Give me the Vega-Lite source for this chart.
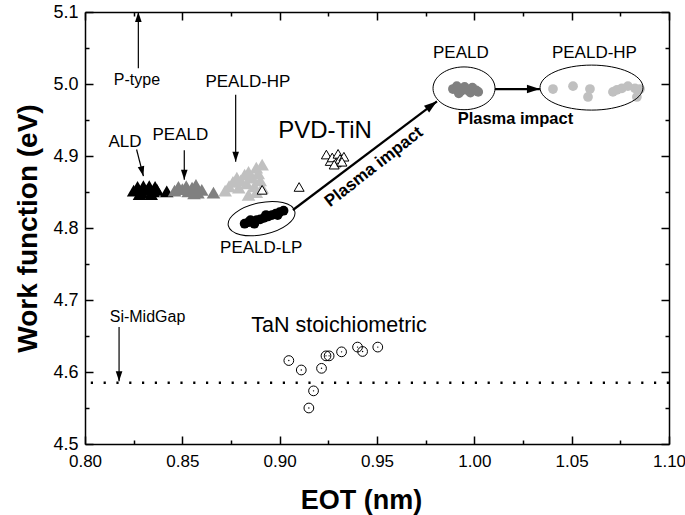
{
  "$schema": "https://vega.github.io/schema/vega-lite/v6.json",
  "width": 584,
  "height": 432,
  "autosize": {"type": "none"},
  "padding": {"left": 85, "top": 12, "right": 16, "bottom": 71},
  "background": "white",
  "config": {"view": {"stroke": null}, "font": "Liberation Sans"},
  "resolve": {"axis": {"x": "independent", "y": "independent"}},
  "datasets": {
    "tri": [
      {"eot": 0.825, "wf": 4.852, "grp": "ALD"}, {"eot": 0.827, "wf": 4.857, "grp": "ALD"}, {"eot": 0.829, "wf": 4.850, "grp": "ALD"},
      {"eot": 0.830, "wf": 4.858, "grp": "ALD"}, {"eot": 0.832, "wf": 4.853, "grp": "ALD"}, {"eot": 0.833, "wf": 4.858, "grp": "ALD"},
      {"eot": 0.835, "wf": 4.851, "grp": "ALD"}, {"eot": 0.836, "wf": 4.857, "grp": "ALD"}, {"eot": 0.837, "wf": 4.853, "grp": "ALD"},
      {"eot": 0.828, "wf": 4.847, "grp": "ALD"}, {"eot": 0.834, "wf": 4.847, "grp": "ALD"}, {"eot": 0.842, "wf": 4.851, "grp": "ALD"},
      {"eot": 0.846, "wf": 4.852, "grp": "PEALD"}, {"eot": 0.848, "wf": 4.857, "grp": "PEALD"}, {"eot": 0.850, "wf": 4.854, "grp": "PEALD"},
      {"eot": 0.852, "wf": 4.858, "grp": "PEALD"}, {"eot": 0.853, "wf": 4.851, "grp": "PEALD"}, {"eot": 0.855, "wf": 4.856, "grp": "PEALD"},
      {"eot": 0.857, "wf": 4.860, "grp": "PEALD"}, {"eot": 0.858, "wf": 4.849, "grp": "PEALD"}, {"eot": 0.860, "wf": 4.853, "grp": "PEALD"},
      {"eot": 0.856, "wf": 4.848, "grp": "PEALD"}, {"eot": 0.866, "wf": 4.849, "grp": "PEALD"},
      {"eot": 0.872, "wf": 4.852, "grp": "PEALD-HP"}, {"eot": 0.874, "wf": 4.858, "grp": "PEALD-HP"}, {"eot": 0.876, "wf": 4.864, "grp": "PEALD-HP"},
      {"eot": 0.878, "wf": 4.870, "grp": "PEALD-HP"}, {"eot": 0.879, "wf": 4.856, "grp": "PEALD-HP"}, {"eot": 0.880, "wf": 4.866, "grp": "PEALD-HP"},
      {"eot": 0.882, "wf": 4.874, "grp": "PEALD-HP"}, {"eot": 0.883, "wf": 4.862, "grp": "PEALD-HP"}, {"eot": 0.884, "wf": 4.878, "grp": "PEALD-HP"},
      {"eot": 0.886, "wf": 4.870, "grp": "PEALD-HP"}, {"eot": 0.887, "wf": 4.858, "grp": "PEALD-HP"}, {"eot": 0.888, "wf": 4.884, "grp": "PEALD-HP"},
      {"eot": 0.889, "wf": 4.876, "grp": "PEALD-HP"}, {"eot": 0.890, "wf": 4.866, "grp": "PEALD-HP"}, {"eot": 0.891, "wf": 4.888, "grp": "PEALD-HP"},
      {"eot": 0.884, "wf": 4.846, "grp": "PEALD-HP"}, {"eot": 0.888, "wf": 4.850, "grp": "PEALD-HP"}, {"eot": 0.891, "wf": 4.856, "grp": "PEALD-HP"}
    ],
    "pvd": [
      {"eot": 0.891, "wf": 4.853}, {"eot": 0.910, "wf": 4.857},
      {"eot": 0.924, "wf": 4.902}, {"eot": 0.926, "wf": 4.893}, {"eot": 0.927, "wf": 4.898},
      {"eot": 0.929, "wf": 4.891}, {"eot": 0.930, "wf": 4.903}, {"eot": 0.931, "wf": 4.896},
      {"eot": 0.933, "wf": 4.899}, {"eot": 0.928, "wf": 4.888}, {"eot": 0.932, "wf": 4.892}
    ],
    "circ": [
      {"eot": 0.882, "wf": 4.806, "grp": "PEALD-LP"}, {"eot": 0.884, "wf": 4.808, "grp": "PEALD-LP"}, {"eot": 0.886, "wf": 4.809, "grp": "PEALD-LP"},
      {"eot": 0.888, "wf": 4.811, "grp": "PEALD-LP"}, {"eot": 0.890, "wf": 4.812, "grp": "PEALD-LP"}, {"eot": 0.892, "wf": 4.814, "grp": "PEALD-LP"},
      {"eot": 0.894, "wf": 4.816, "grp": "PEALD-LP"}, {"eot": 0.896, "wf": 4.818, "grp": "PEALD-LP"}, {"eot": 0.898, "wf": 4.820, "grp": "PEALD-LP"},
      {"eot": 0.900, "wf": 4.822, "grp": "PEALD-LP"}, {"eot": 0.902, "wf": 4.824, "grp": "PEALD-LP"}, {"eot": 0.887, "wf": 4.806, "grp": "PEALD-LP"},
      {"eot": 0.893, "wf": 4.818, "grp": "PEALD-LP"}, {"eot": 0.899, "wf": 4.818, "grp": "PEALD-LP"}, {"eot": 0.885, "wf": 4.811, "grp": "PEALD-LP"},
      {"eot": 0.989, "wf": 4.993, "grp": "PEALD"}, {"eot": 0.991, "wf": 4.997, "grp": "PEALD"}, {"eot": 0.993, "wf": 4.990, "grp": "PEALD"},
      {"eot": 0.995, "wf": 4.996, "grp": "PEALD"}, {"eot": 0.996, "wf": 4.992, "grp": "PEALD"}, {"eot": 0.998, "wf": 4.988, "grp": "PEALD"},
      {"eot": 0.999, "wf": 4.995, "grp": "PEALD"}, {"eot": 1.001, "wf": 4.991, "grp": "PEALD"}, {"eot": 1.002, "wf": 4.989, "grp": "PEALD"},
      {"eot": 0.992, "wf": 4.987, "grp": "PEALD"},
      {"eot": 1.0404, "wf": 4.993, "grp": "PEALD-HP"}, {"eot": 1.0507, "wf": 4.997, "grp": "PEALD-HP"}, {"eot": 1.0594, "wf": 4.993, "grp": "PEALD-HP"},
      {"eot": 1.0584, "wf": 4.982, "grp": "PEALD-HP"}, {"eot": 1.0712, "wf": 4.989, "grp": "PEALD-HP"}, {"eot": 1.0733, "wf": 4.992, "grp": "PEALD-HP"},
      {"eot": 1.0758, "wf": 4.994, "grp": "PEALD-HP"}, {"eot": 1.0789, "wf": 4.997, "grp": "PEALD-HP"}, {"eot": 1.0825, "wf": 4.994, "grp": "PEALD-HP"},
      {"eot": 1.0835, "wf": 4.982, "grp": "PEALD-HP"}, {"eot": 1.0851, "wf": 4.993, "grp": "PEALD-HP"}
    ],
    "tan": [
      {"eot": 0.9047, "wf": 4.6159}, {"eot": 0.9111, "wf": 4.6028}, {"eot": 0.9174, "wf": 4.5738},
      {"eot": 0.9150, "wf": 4.5500}, {"eot": 0.9215, "wf": 4.6051}, {"eot": 0.9238, "wf": 4.6224},
      {"eot": 0.9254, "wf": 4.6224}, {"eot": 0.9318, "wf": 4.6280}, {"eot": 0.9400, "wf": 4.6346},
      {"eot": 0.9426, "wf": 4.6285}, {"eot": 0.9504, "wf": 4.6346}
    ],
    "ellLP": [{"eot": 0.8907, "wf": 4.813}],
    "ellP": [{"eot": 0.9947, "wf": 4.994}],
    "ellHP": [{"eot": 1.0602, "wf": 4.995}],
    "midgap": [{"wf": 4.585}],
    "arrows": [
      {"eot": 0.8274, "wf": 5.022, "eot2": 0.8274, "wf2": 5.1, "dir": "up", "kind": "thin"},
      {"eot": 0.8265, "wf": 4.909, "eot2": 0.830, "wf2": 4.872, "dir": "ald", "kind": "thin"},
      {"eot": 0.851, "wf": 4.908, "eot2": 0.851, "wf2": 4.867, "dir": "down", "kind": "thin"},
      {"eot": 0.8774, "wf": 4.985, "eot2": 0.8774, "wf2": 4.892, "dir": "down", "kind": "thin"},
      {"eot": 0.8175, "wf": 4.6625, "eot2": 0.8175, "wf2": 4.587, "dir": "down", "kind": "thin"},
      {"eot": 0.9068, "wf": 4.825, "eot2": 0.9808, "wf2": 4.976, "dir": "diag", "kind": "thick"},
      {"eot": 1.0106, "wf": 4.993, "eot2": 1.0337, "wf2": 4.993, "dir": "right", "kind": "thick"}
    ],
    "smalllabels": [
      {"eot": 0.8267, "wf": 5.0055, "text": "P-type"},
      {"eot": 0.8321, "wf": 4.677, "text": "Si-MidGap"}
    ],
    "labels": [
      {"eot": 0.8205, "wf": 4.920, "text": "ALD"},
      {"eot": 0.849, "wf": 4.9285, "text": "PEALD"},
      {"eot": 0.8837, "wf": 5.003, "text": "PEALD-HP"},
      {"eot": 0.8905, "wf": 4.772, "text": "PEALD-LP"},
      {"eot": 0.9931, "wf": 5.0424, "text": "PEALD"},
      {"eot": 1.0617, "wf": 5.0424, "text": "PEALD-HP"}
    ],
    "pvdlabel": [{"eot": 0.9233, "wf": 4.935, "text": "PVD-TiN"}],
    "tanlabel": [{"eot": 0.9305, "wf": 4.6556, "text": "TaN stoichiometric"}],
    "plasmaH": [{"eot": 1.0211, "wf": 4.952, "text": "Plasma impact"}],
    "plasmaD": [{"eot": 0.9484, "wf": 4.8847, "text": "Plasma impact"}]
  },
  "layer": [
    {
      "data": {"name": "midgap"},
      "mark": {"type": "rule", "color": "black", "strokeWidth": 2.4, "strokeDash": [2.2, 10.6]},
      "encoding": {
        "y": {"field": "wf", "type": "quantitative", "scale": {"domain": [4.5, 5.1], "nice": false, "zero": false}, "axis": null}
      }
    },
    {
      "data": {"name": "tri"},
      "mark": {"type": "point", "shape": "triangle-up", "filled": true, "size": 185, "opacity": 1},
      "encoding": {
        "x": {"field": "eot", "type": "quantitative", "scale": {"domain": [0.8, 1.1], "nice": false, "zero": false},
          "axis": {"orient": "bottom", "values": [0.8, 0.825, 0.85, 0.875, 0.9, 0.925, 0.95, 0.975, 1.0, 1.025, 1.05, 1.075, 1.1],
            "tickSize": {"condition": {"test": "round(datum.value*1000)%50==0", "value": -8}, "value": -4},
            "tickWidth": 1.5, "tickColor": "black", "domainColor": "black", "domainWidth": 1.5,
            "labelExpr": "round(datum.value*1000)%50==0 ? format(datum.value,'.2f') : ''",
            "labelFont": "Liberation Sans", "labelFontSize": 17, "labelColor": "black", "labelPadding": 17,
            "labelOverlap": false, "labelFlush": false, "grid": false,
            "title": "EOT (nm)", "titleFont": "Liberation Sans", "titleFontSize": 27, "titleFontWeight": "bold", "titleColor": "black", "titlePadding": 14, "titleX": 276, "titleAlign": "center"}},
        "y": {"field": "wf", "type": "quantitative", "scale": {"domain": [4.5, 5.1], "nice": false, "zero": false},
          "axis": {"orient": "left", "values": [4.5, 4.55, 4.6, 4.65, 4.7, 4.75, 4.8, 4.85, 4.9, 4.95, 5.0, 5.05, 5.1],
            "tickSize": {"condition": {"test": "round(datum.value*100)%10==0", "value": -8}, "value": -4},
            "tickWidth": 1.5, "tickColor": "black", "domainColor": "black", "domainWidth": 1.5,
            "labelExpr": "round(datum.value*100)%10==0 ? format(datum.value,'.1f') : ''",
            "labelFont": "Liberation Sans", "labelFontSize": 18, "labelColor": "black", "labelPadding": 15,
            "labelOverlap": false, "labelFlush": false, "grid": false,
            "title": "Work function (eV)", "titleFont": "Liberation Sans", "titleFontSize": 28, "titleFontWeight": "bold", "titleColor": "black", "titlePadding": 10}},
        "fill": {"field": "grp", "type": "nominal", "scale": {"domain": ["ALD", "PEALD", "PEALD-HP", "PEALD-LP"], "range": ["#000000", "#808080", "#c0c0c0", "#000000"]}, "legend": null}
      }
    },
    {
      "data": {"name": "pvd"},
      "mark": {"type": "point", "shape": "triangle-up", "filled": true, "fill": "white", "stroke": "black", "strokeWidth": 1, "size": 100, "opacity": 1},
      "encoding": {
        "x": {"field": "eot", "type": "quantitative", "axis": null},
        "y": {"field": "wf", "type": "quantitative", "axis": null}
      }
    },
    {
      "data": {"name": "circ"},
      "mark": {"type": "point", "shape": "circle", "filled": true, "size": 95, "opacity": 1},
      "encoding": {
        "x": {"field": "eot", "type": "quantitative", "axis": null},
        "y": {"field": "wf", "type": "quantitative", "axis": null},
        "fill": {"field": "grp", "type": "nominal", "scale": {"domain": ["ALD", "PEALD", "PEALD-HP", "PEALD-LP"], "range": ["#000000", "#808080", "#c0c0c0", "#000000"]}, "legend": null}
      }
    },
    {
      "data": {"name": "tan"},
      "mark": {"type": "point", "shape": "circle", "filled": false, "stroke": "black", "strokeWidth": 1, "size": 95, "opacity": 1},
      "encoding": {
        "x": {"field": "eot", "type": "quantitative", "axis": null},
        "y": {"field": "wf", "type": "quantitative", "axis": null}
      }
    },
    {
      "data": {"name": "tan"},
      "mark": {"type": "point", "shape": "circle", "filled": true, "fill": "black", "size": 2, "opacity": 1},
      "encoding": {
        "x": {"field": "eot", "type": "quantitative", "axis": null},
        "y": {"field": "wf", "type": "quantitative", "axis": null}
      }
    },
    {
      "data": {"name": "ellLP"},
      "mark": {"type": "point", "shape": "M-1,0A1,0.47,0,1,0,1,0A1,0.47,0,1,0,-1,0Z", "filled": false, "stroke": "black", "strokeWidth": 1, "size": 4624, "angle": -12, "opacity": 1},
      "encoding": {
        "x": {"field": "eot", "type": "quantitative", "axis": null},
        "y": {"field": "wf", "type": "quantitative", "axis": null}
      }
    },
    {
      "data": {"name": "ellP"},
      "mark": {"type": "point", "shape": "M-1,0A1,0.69,0,1,0,1,0A1,0.69,0,1,0,-1,0Z", "filled": false, "stroke": "black", "strokeWidth": 1, "size": 3844, "opacity": 1},
      "encoding": {
        "x": {"field": "eot", "type": "quantitative", "axis": null},
        "y": {"field": "wf", "type": "quantitative", "axis": null}
      }
    },
    {
      "data": {"name": "ellHP"},
      "mark": {"type": "point", "shape": "M-1,0A1,0.437,0,1,0,1,0A1,0.437,0,1,0,-1,0Z", "filled": false, "stroke": "black", "strokeWidth": 1, "size": 10609, "opacity": 1},
      "encoding": {
        "x": {"field": "eot", "type": "quantitative", "axis": null},
        "y": {"field": "wf", "type": "quantitative", "axis": null}
      }
    },
    {
      "data": {"name": "arrows"},
      "mark": {"type": "rule", "color": "black"},
      "encoding": {
        "x": {"field": "eot", "type": "quantitative", "axis": null},
        "y": {"field": "wf", "type": "quantitative", "axis": null},
        "x2": {"field": "eot2"},
        "y2": {"field": "wf2"},
        "strokeWidth": {"field": "kind", "type": "nominal", "scale": {"domain": ["thin", "thick"], "range": [1.2, 2.2]}, "legend": null}
      }
    },
    {
      "data": {"name": "arrows"},
      "transform": [{"filter": "datum.dir == 'up'"}],
      "mark": {"type": "point", "shape": "M0,0L-0.33,1L0.33,1Z", "filled": true, "fill": "black", "opacity": 1, "strokeWidth": 0, "size": 400, "angle": 0},
      "encoding": {
        "x": {"field": "eot2", "type": "quantitative", "axis": null},
        "y": {"field": "wf2", "type": "quantitative", "axis": null}
      }
    },
    {
      "data": {"name": "arrows"},
      "transform": [{"filter": "datum.dir == 'down'"}],
      "mark": {"type": "point", "shape": "M0,0L-0.33,1L0.33,1Z", "filled": true, "fill": "black", "opacity": 1, "strokeWidth": 0, "size": 400, "angle": 180},
      "encoding": {
        "x": {"field": "eot2", "type": "quantitative", "axis": null},
        "y": {"field": "wf2", "type": "quantitative", "axis": null}
      }
    },
    {
      "data": {"name": "arrows"},
      "transform": [{"filter": "datum.dir == 'ald'"}],
      "mark": {"type": "point", "shape": "M0,0L-0.33,1L0.33,1Z", "filled": true, "fill": "black", "opacity": 1, "strokeWidth": 0, "size": 400, "angle": 166},
      "encoding": {
        "x": {"field": "eot2", "type": "quantitative", "axis": null},
        "y": {"field": "wf2", "type": "quantitative", "axis": null}
      }
    },
    {
      "data": {"name": "arrows"},
      "transform": [{"filter": "datum.dir == 'diag'"}],
      "mark": {"type": "point", "shape": "M0,0L-0.33,1L0.33,1Z", "filled": true, "fill": "black", "opacity": 1, "strokeWidth": 0, "size": 676, "angle": 53},
      "encoding": {
        "x": {"field": "eot2", "type": "quantitative", "axis": null},
        "y": {"field": "wf2", "type": "quantitative", "axis": null}
      }
    },
    {
      "data": {"name": "arrows"},
      "transform": [{"filter": "datum.dir == 'right'"}],
      "mark": {"type": "point", "shape": "M0,0L-0.33,1L0.33,1Z", "filled": true, "fill": "black", "opacity": 1, "strokeWidth": 0, "size": 676, "angle": 90},
      "encoding": {
        "x": {"field": "eot2", "type": "quantitative", "axis": null},
        "y": {"field": "wf2", "type": "quantitative", "axis": null}
      }
    },
    {
      "data": {"name": "smalllabels"},
      "mark": {"type": "text", "font": "Liberation Sans", "fontSize": 16, "color": "black", "align": "center", "baseline": "middle"},
      "encoding": {
        "x": {"field": "eot", "type": "quantitative", "axis": null},
        "y": {"field": "wf", "type": "quantitative", "axis": null},
        "text": {"field": "text"}
      }
    },
    {
      "data": {"name": "labels"},
      "mark": {"type": "text", "font": "Liberation Sans", "fontSize": 17, "color": "black", "align": "center", "baseline": "middle"},
      "encoding": {
        "x": {"field": "eot", "type": "quantitative", "axis": null},
        "y": {"field": "wf", "type": "quantitative", "axis": null},
        "text": {"field": "text"}
      }
    },
    {
      "data": {"name": "pvdlabel"},
      "mark": {"type": "text", "font": "Liberation Sans", "fontSize": 24, "color": "black", "align": "center", "baseline": "middle"},
      "encoding": {
        "x": {"field": "eot", "type": "quantitative", "axis": null},
        "y": {"field": "wf", "type": "quantitative", "axis": null},
        "text": {"field": "text"}
      }
    },
    {
      "data": {"name": "tanlabel"},
      "mark": {"type": "text", "font": "Liberation Sans", "fontSize": 21.5, "color": "black", "align": "center", "baseline": "alphabetic"},
      "encoding": {
        "x": {"field": "eot", "type": "quantitative", "axis": null},
        "y": {"field": "wf", "type": "quantitative", "axis": null},
        "text": {"field": "text"}
      }
    },
    {
      "data": {"name": "plasmaH"},
      "mark": {"type": "text", "font": "Liberation Sans", "fontSize": 16.5, "fontWeight": "bold", "color": "black", "align": "center", "baseline": "middle"},
      "encoding": {
        "x": {"field": "eot", "type": "quantitative", "axis": null},
        "y": {"field": "wf", "type": "quantitative", "axis": null},
        "text": {"field": "text"}
      }
    },
    {
      "data": {"name": "plasmaD"},
      "mark": {"type": "text", "font": "Liberation Sans", "fontSize": 17, "fontWeight": "bold", "color": "black", "align": "center", "baseline": "middle", "angle": -38},
      "encoding": {
        "x": {"field": "eot", "type": "quantitative", "axis": null},
        "y": {"field": "wf", "type": "quantitative", "axis": null},
        "text": {"field": "text"}
      }
    },
    {
      "data": {"name": "ellP"},
      "mark": {"type": "point", "opacity": 0},
      "encoding": {
        "x": {"field": "eot", "type": "quantitative",
          "axis": {"orient": "top", "values": [0.8, 0.825, 0.85, 0.875, 0.9, 0.925, 0.95, 0.975, 1.0, 1.025, 1.05, 1.075, 1.1],
            "tickSize": {"condition": {"test": "round(datum.value*1000)%50==0", "value": -8}, "value": -4},
            "tickWidth": 1.5, "tickColor": "black", "domainColor": "black", "domainWidth": 1.5,
            "labels": false, "grid": false, "title": null}},
        "y": {"field": "wf", "type": "quantitative",
          "axis": {"orient": "right", "values": [4.5, 4.55, 4.6, 4.65, 4.7, 4.75, 4.8, 4.85, 4.9, 4.95, 5.0, 5.05, 5.1],
            "tickSize": {"condition": {"test": "round(datum.value*100)%10==0", "value": -8}, "value": -4},
            "tickWidth": 1.5, "tickColor": "black", "domainColor": "black", "domainWidth": 1.5,
            "labels": false, "grid": false, "title": null}}
      }
    }
  ]
}
